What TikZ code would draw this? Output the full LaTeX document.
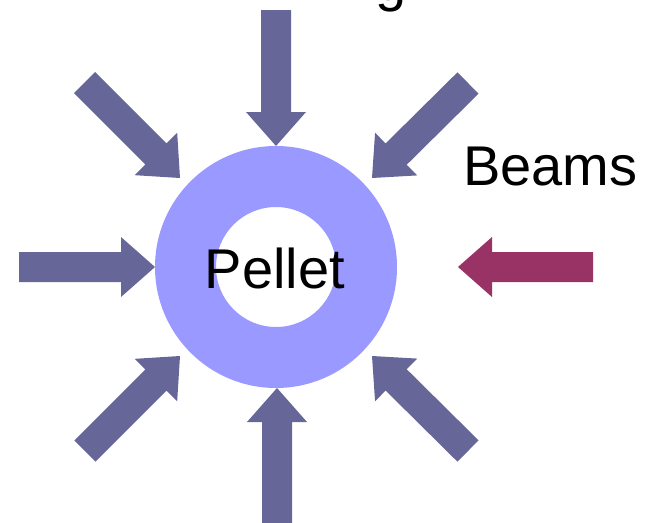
\documentclass[tikz,border=0pt]{standalone}
\usepackage{fontspec}
\setmainfont{Liberation Sans}
\usetikzlibrary{calc}
\definecolor{arrowblue}{HTML}{666699}
\definecolor{beamred}{HTML}{993366}
\definecolor{ringblue}{HTML}{9999FF}
\newcommand{\blockarrow}[3]{%
  \coordinate (#1hb) at ($(#2)!34pt!(#1)$);
  \fill[#3] ($(#1)!15pt!90:(#2)$) -- ($(#1hb)!15pt!-90:(#1)$) -- ($(#1hb)!30pt!-90:(#1)$)
    -- (#2) -- ($(#1hb)!30pt!90:(#1)$) -- ($(#1hb)!15pt!90:(#1)$)
    -- ($(#1)!15pt!-90:(#2)$) -- cycle;}
\begin{document}
\begin{tikzpicture}[x=1pt,y=-1pt,
  lbl/.style={inner sep=0pt,font=\fontsize{56}{60}\selectfont}]
\useasboundingbox (0,0) rectangle (647,522);
\begin{scope}
\clip (0,0) rectangle (647,522);
% ring
\fill[ringblue,even odd rule] (276,267) circle[radius=121pt] circle[radius=60pt];
% arrow end points
\coordinate (tT) at (276,10);   \coordinate (tH) at (276,146);
\coordinate (bT) at (277,530);  \coordinate (bH) at (277,388);
\coordinate (lT) at (19,267);   \coordinate (lH) at (155,267);
\coordinate (tlT) at (84.5,82.5); \coordinate (tlH) at (180,178);
\coordinate (trT) at (468,83);  \coordinate (trH) at (372,178);
\coordinate (blT) at (85,451);  \coordinate (blH) at (180,356);
\coordinate (brT) at (468,451); \coordinate (brH) at (372,356);
\coordinate (rT) at (593,267);  \coordinate (rH) at (458,267);
\blockarrow{tT}{tH}{arrowblue}
\blockarrow{bT}{bH}{arrowblue}
\blockarrow{lT}{lH}{arrowblue}
\blockarrow{tlT}{tlH}{arrowblue}
\blockarrow{trT}{trH}{arrowblue}
\blockarrow{blT}{blH}{arrowblue}
\blockarrow{brT}{brH}{arrowblue}
\blockarrow{rT}{rH}{beamred}
% texts
\node[lbl,anchor=base] (pellet) at (275,288) {Pellet};
\node[lbl,anchor=base west] (beams) at (463,185) {Beams};
\node[lbl,anchor=base west] (topfrag) at (375,0) {g};
\end{scope}
\end{tikzpicture}
\end{document}
